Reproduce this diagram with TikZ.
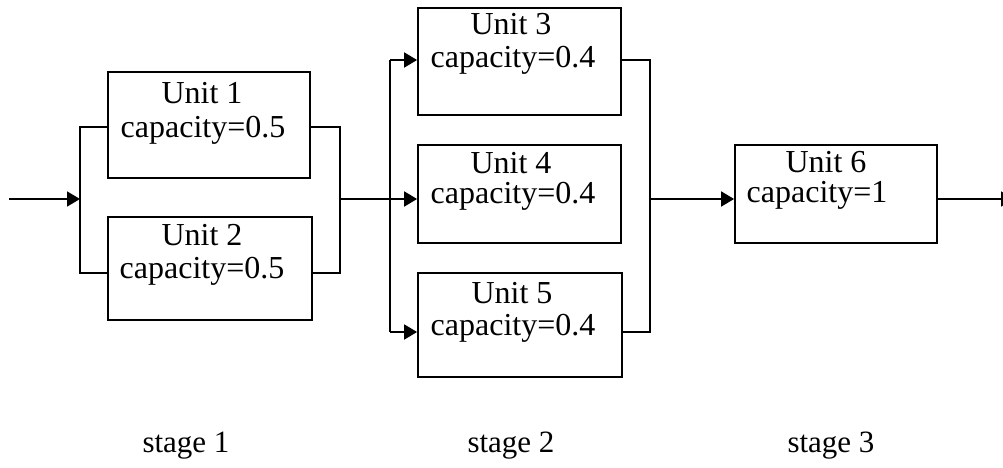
\documentclass[tikz,border=0pt]{standalone}
\usepackage{fontspec}
\setmainfont{Liberation Serif}
\usetikzlibrary{arrows.meta}
\begin{document}
\begin{tikzpicture}[x=1pt,y=-1pt,
  flow/.style={line width=1.8pt},
  arr/.style={-{Triangle[length=13pt,width=15pt]}},
  unitbox/.style={draw,line width=1.8pt,inner sep=0pt},
  unittext/.style={anchor=base,inner sep=0pt,font=\fontsize{32}{38}\selectfont},
  stagetext/.style={anchor=base,inner sep=0pt,font=\fontsize{31}{37}\selectfont}]
\useasboundingbox (0,0) rectangle (1003,468);
% boxes
\node[unitbox,minimum width=202pt,minimum height=106pt] (u1) at (209,125) {};
\node[unitbox,minimum width=204pt,minimum height=103pt] (u2) at (210,268.5) {};
\node[unitbox,minimum width=203pt,minimum height=107pt] (u3) at (519.5,61.5) {};
\node[unitbox,minimum width=203pt,minimum height=98pt] (u4) at (519.5,194) {};
\node[unitbox,minimum width=204pt,minimum height=104pt] (u5) at (520,325) {};
\node[unitbox,minimum width=202pt,minimum height=98pt] (u6) at (836,194) {};
% texts
\node[unittext] (u1a) at (202,103) {Unit 1};
\node[unittext] (u1b) at (203,137) {capacity=0.5};
\node[unittext] (u2a) at (202,245) {Unit 2};
\node[unittext] (u2b) at (202,278) {capacity=0.5};
\node[unittext] (u3a) at (511,35) {Unit 3};
\node[unittext] (u3b) at (513,68) {capacity=0.4};
\node[unittext] (u4a) at (511,173) {Unit 4};
\node[unittext] (u4b) at (513,203) {capacity=0.4};
\node[unittext] (u5a) at (512,303) {Unit 5};
\node[unittext] (u5b) at (513,335) {capacity=0.4};
\node[unittext] (u6a) at (826,172) {Unit 6};
\node[unittext] (u6b) at (817,202) {capacity=1};
\node[stagetext] (s1) at (186,452) {stage 1};
\node[stagetext] (s2) at (511,452) {stage 2};
\node[stagetext] (s3) at (831,452) {stage 3};
% bus coordinates
\coordinate (in) at (9,199);
\coordinate (lb) at (80,199);
\coordinate (lbt) at (80,127);
\coordinate (lbb) at (80,273);
\coordinate (rbt) at (340,127);
\coordinate (rb) at (340,199);
\coordinate (rbb) at (340,273);
\coordinate (mbt) at (390,60);
\coordinate (mb) at (390,199);
\coordinate (mbb) at (390,332);
\coordinate (sbt) at (650,60);
\coordinate (sb) at (650,199);
\coordinate (sbb) at (650,332);
\coordinate (out) at (1014,199);
% connectors
\draw[flow,arr] (in) -- (lb);
\draw[flow] (u1.west |- lbt) -- (lbt) -- (lbb) -- (u2.west |- lbb);
\draw[flow] (u1.east |- rbt) -- (rbt) -- (rbb) -- (u2.east |- rbb);
\draw[flow] (rb) -- (mb);
\draw[flow] (mbt) -- (mbb);
\draw[flow,arr] (mbt) -- (u3.west |- mbt);
\draw[flow,arr] (mb) -- (u4.west |- mb);
\draw[flow,arr] (mbb) -- (u5.west |- mbb);
\draw[flow] (u3.east |- sbt) -- (sbt) -- (sbb) -- (u5.east |- sbb);
\draw[flow,arr] (sb) -- (u6.west |- sb);
\draw[flow,arr] (u6.east |- out) -- (out);
\end{tikzpicture}
\end{document}
